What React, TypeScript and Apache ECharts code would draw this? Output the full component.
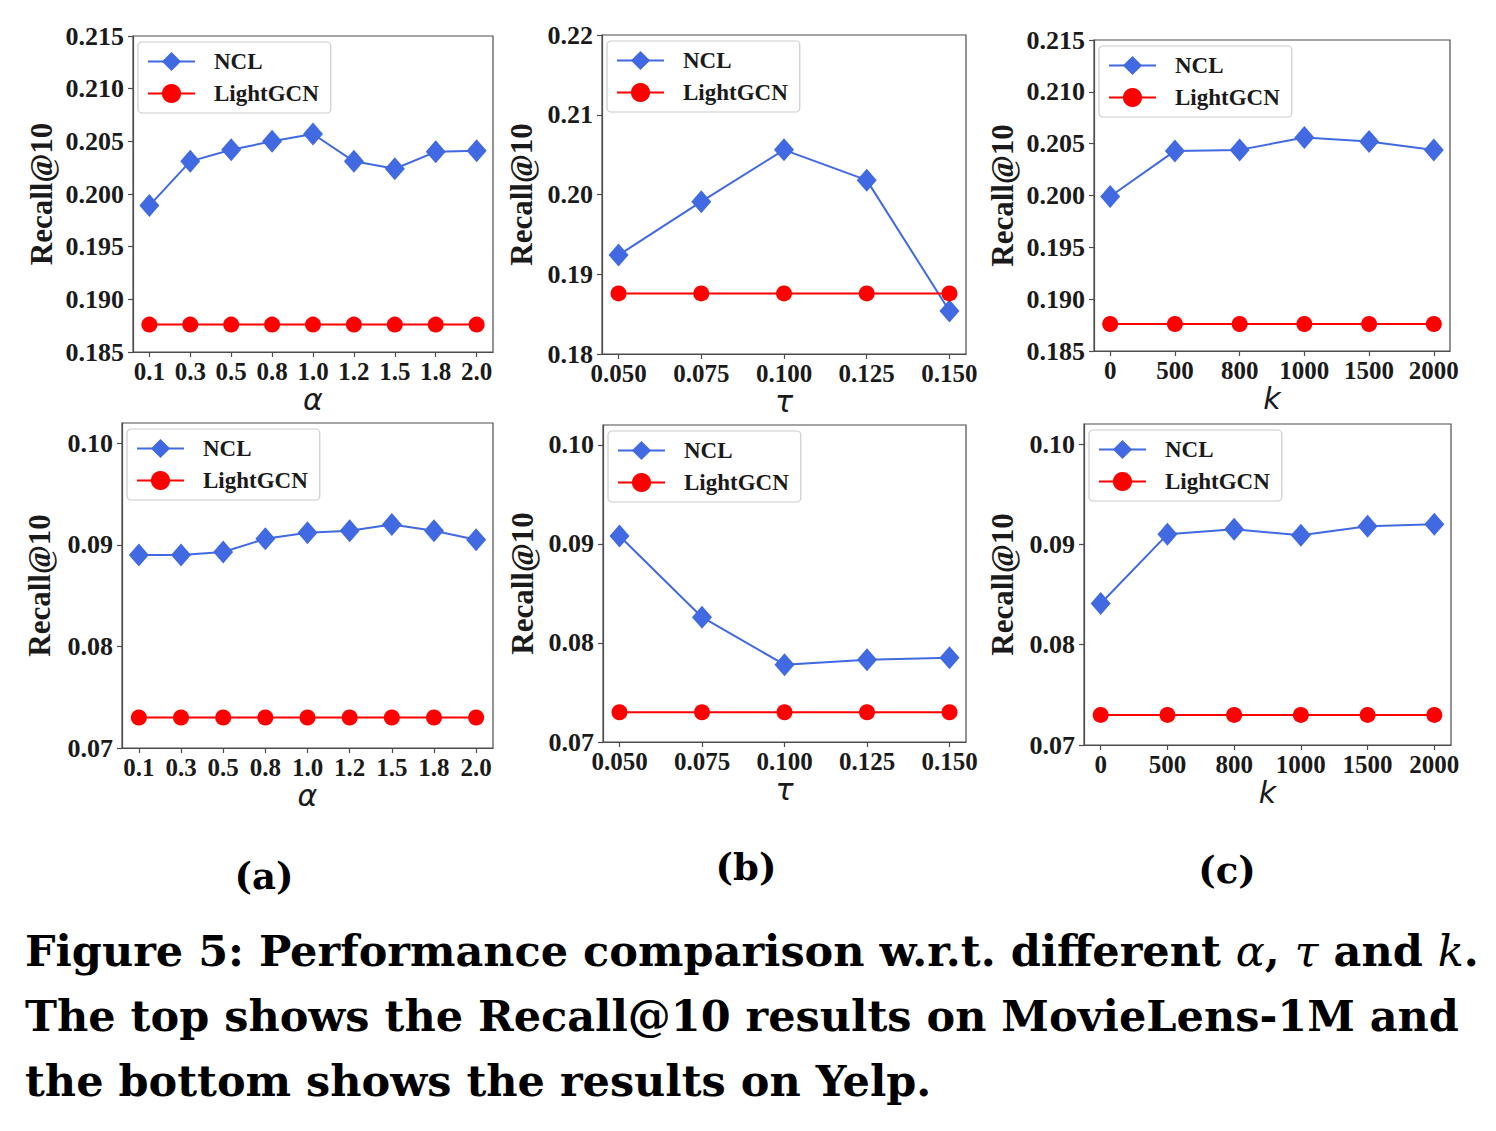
import React, { useEffect, useRef } from "react";
import * as echarts from "echarts";

// ---------- data ----------
const alphaLabels = ["0.1", "0.3", "0.5", "0.8", "1.0", "1.2", "1.5", "1.8", "2.0"];
const tauLabels = ["0.050", "0.075", "0.100", "0.125", "0.150"];
const kLabels = ["0", "500", "800", "1000", "1500", "2000"];

const mlAlphaNCL = [0.1989, 0.2031, 0.2042, 0.205, 0.2057, 0.2031, 0.2024, 0.204, 0.2041];
const mlAlphaLGCN = [0.1876, 0.1876, 0.1876, 0.1876, 0.1876, 0.1876, 0.1876, 0.1876, 0.1876];
const mlTauNCL = [0.1924, 0.1991, 0.2056, 0.2018, 0.1854];
const mlTauLGCN = [0.1876, 0.1876, 0.1876, 0.1876, 0.1876];
const mlKNCL = [0.1999, 0.2043, 0.2044, 0.2056, 0.2052, 0.2044];
const mlKLGCN = [0.1876, 0.1876, 0.1876, 0.1876, 0.1876, 0.1876];

const yelpAlphaNCL = [0.089, 0.089, 0.0893, 0.0906, 0.0912, 0.0914, 0.092, 0.0914, 0.0905];
const yelpAlphaLGCN = [0.073, 0.073, 0.073, 0.073, 0.073, 0.073, 0.073, 0.073, 0.073];
const yelpTauNCL = [0.0908, 0.0826, 0.0778, 0.0783, 0.0785];
const yelpTauLGCN = [0.073, 0.073, 0.073, 0.073, 0.073];
const yelpKNCL = [0.0841, 0.091, 0.0915, 0.0909, 0.0918, 0.092];
const yelpKLGCN = [0.073, 0.073, 0.073, 0.073, 0.073, 0.073];

const mlTicksA = [0.185, 0.19, 0.195, 0.2, 0.205, 0.21, 0.215];
const mlTicksB = [0.18, 0.19, 0.2, 0.21, 0.22];
const yelpTicks = [0.07, 0.08, 0.09, 0.1];

const seriesNames = ["NCL", "LightGCN"];
const xNames = ["α", "τ", "k"];
const subLabels = ["(a)", "(b)", "(c)"];

// ---------- layout / style ----------
const SERIF = "'Liberation Serif', 'Times New Roman', serif";
const CAP = "'DejaVu Serif', serif";
const TXT = "#1a1a1a";
const AX = "#4d4d4d";

type Panel = {
  grid: { left: number; top: number; width: number; height: number };
  cats: string[];
  ncl: number[];
  lgcn: number[];
  yTicks: number[];
  yMin: number;
  yMax: number;
  dec: number;
  xName: string;
  nameGap: number;
};

const panels: Panel[] = [
  { grid: { left: 133, top: 36, width: 360, height: 316 }, cats: alphaLabels, ncl: mlAlphaNCL, lgcn: mlAlphaLGCN, yTicks: mlTicksA, yMin: 0.185, yMax: 0.215, dec: 3, xName: xNames[0], nameGap: 76 },
  { grid: { left: 602, top: 35, width: 364, height: 319 }, cats: tauLabels, ncl: mlTauNCL, lgcn: mlTauLGCN, yTicks: mlTicksB, yMin: 0.18, yMax: 0.22, dec: 2, xName: xNames[1], nameGap: 65 },
  { grid: { left: 1094, top: 40, width: 356, height: 311 }, cats: kLabels, ncl: mlKNCL, lgcn: mlKLGCN, yTicks: mlTicksA, yMin: 0.185, yMax: 0.215, dec: 3, xName: xNames[2], nameGap: 76 },
  { grid: { left: 122, top: 423, width: 371, height: 325 }, cats: alphaLabels, ncl: yelpAlphaNCL, lgcn: yelpAlphaLGCN, yTicks: yelpTicks, yMin: 0.07, yMax: 0.102, dec: 2, xName: xNames[0], nameGap: 67 },
  { grid: { left: 603, top: 425, width: 363, height: 317 }, cats: tauLabels, ncl: yelpTauNCL, lgcn: yelpTauLGCN, yTicks: yelpTicks, yMin: 0.07, yMax: 0.102, dec: 2, xName: xNames[1], nameGap: 65 },
  { grid: { left: 1084, top: 424, width: 367, height: 321 }, cats: kLabels, ncl: yelpKNCL, lgcn: yelpKLGCN, yTicks: yelpTicks, yMin: 0.07, yMax: 0.102, dec: 2, xName: xNames[2], nameGap: 66 },
];

function buildOption() {
  const grid: any[] = [];
  const xAxis: any[] = [];
  const yAxis: any[] = [];
  const series: any[] = [];
  const legend: any[] = [];

  panels.forEach((p, i) => {
    const n = p.cats.length;
    const pad = (n - 1) * 0.05;
    const idx = p.cats.map((_, j) => j);
    grid.push({
      ...p.grid,
      show: true,
      borderColor: AX,
      borderWidth: 1.2,
      backgroundColor: "transparent",
    });
    xAxis.push({
      type: "value",
      gridIndex: i,
      min: -pad,
      max: n - 1 + pad,
      name: p.xName,
      nameLocation: "middle",
      nameGap: 29,
      nameTextStyle: {
        fontFamily: "'DejaVu Sans', sans-serif",
        fontStyle: "italic",
        fontSize: 30,
        color: TXT,
      },
      axisLine: { show: true, onZero: false, lineStyle: { color: AX, width: 1.2 } },
      axisTick: { show: true, inside: false, length: 5, customValues: idx, lineStyle: { color: AX, width: 1.2 } },
      axisLabel: {
        customValues: idx,
        margin: 7,
        fontFamily: SERIF,
        fontWeight: "bold",
        fontSize: 25,
        color: TXT,
        formatter: (v: number) => p.cats[Math.round(v)] ?? "",
      },
      splitLine: { show: false },
    });
    yAxis.push({
      type: "value",
      gridIndex: i,
      min: p.yMin,
      max: p.yMax,
      name: "Recall@10",
      nameLocation: "middle",
      nameGap: p.nameGap,
      nameRotate: 90,
      nameTextStyle: {
        fontFamily: SERIF,
        fontWeight: "bold",
        fontSize: 31,
        color: TXT,
      },
      axisLine: { show: true, onZero: false, lineStyle: { color: AX, width: 1.2 } },
      axisTick: { show: true, inside: false, length: 5, customValues: p.yTicks, lineStyle: { color: AX, width: 1.2 } },
      axisLabel: {
        customValues: p.yTicks,
        margin: 9,
        fontFamily: SERIF,
        fontWeight: "bold",
        fontSize: 26,
        color: TXT,
        formatter: (v: number) => v.toFixed(p.dec),
      },
      splitLine: { show: false },
    });
    series.push({
      name: seriesNames[0],
      type: "line",
      xAxisIndex: i,
      yAxisIndex: i,
      data: p.ncl.map((v, j) => [j, v]),
      symbol: "diamond",
      symbolSize: [20, 23],
      lineStyle: { color: "#4169E1", width: 2 },
      itemStyle: { color: "#4169E1" },
      z: 3,
    });
    series.push({
      name: seriesNames[1],
      type: "line",
      xAxisIndex: i,
      yAxisIndex: i,
      data: p.lgcn.map((v, j) => [j, v]),
      symbol: "circle",
      symbolSize: 16,
      lineStyle: { color: "#FF0000", width: 2 },
      itemStyle: { color: "#FF0000" },
      z: 4,
    });
    legend.push({
      data: seriesNames,
      orient: "vertical",
      left: p.grid.left + 5,
      top: p.grid.top + 6,
      padding: [8, 12, 8, 9],
      itemWidth: 47,
      itemHeight: 24,
      itemGap: 9,
      borderColor: "#cccccc",
      borderWidth: 1.2,
      borderRadius: 4,
      backgroundColor: "rgba(255,255,255,0.8)",
      selectedMode: false,
      textStyle: {
        fontFamily: SERIF,
        fontWeight: "bold",
        fontSize: 23,
        color: TXT,
        padding: [0, 0, 0, 14],
      },
    });
  });

  const subPos = [
    { x: 264, y: 876 },
    { x: 746, y: 867 },
    { x: 1227, y: 870 },
  ];
  const graphic: any[] = subLabels.map((t, i) => ({
    type: "text",
    x: subPos[i].x,
    y: subPos[i].y,
    style: {
      text: t,
      fill: "#000",
      fontFamily: CAP,
      fontWeight: "bold",
      fontSize: 37,
      textAlign: "center",
      textVerticalAlign: "middle",
      align: "center",
      verticalAlign: "middle",
    },
  }));

  const rich = {
    i: {
      fontFamily: CAP,
      fontStyle: "italic",
      fontWeight: "normal",
      fontSize: 43,
      fill: "#000",
      color: "#000",
    },
  };
  const captionLines = [
    "Figure 5: Performance comparison w.r.t. different {i|α}, {i|τ} and {i|k}.",
    "The top shows the Recall@10 results on MovieLens-1M and",
    "the bottom shows the results on Yelp.",
  ];
  const captionBaselines = [967, 1032, 1097];
  captionLines.forEach((t, i) => {
    graphic.push({
      type: "text",
      x: 25,
      y: captionBaselines[i] - 16,
      style: {
        text: t,
        fill: "#000",
        fontFamily: CAP,
        fontWeight: "bold",
        fontSize: 43,
        textAlign: "left",
        textVerticalAlign: "middle",
        align: "left",
        verticalAlign: "middle",
        rich,
      },
    });
  });

  return {
    animation: false,
    backgroundColor: "#ffffff",
    grid,
    xAxis,
    yAxis,
    series,
    legend,
    graphic,
  };
}

export default function App() {
  const ref = useRef<HTMLDivElement>(null);
  useEffect(() => {
    if (!ref.current) return;
    const chart = echarts.init(ref.current, undefined, { renderer: "svg" });
    chart.setOption(buildOption() as any);
    return () => chart.dispose();
  }, []);
  return (
    <div
      ref={ref}
      style={{ position: "absolute", left: 0, top: 0, width: 1496, height: 1131, background: "#fff" }}
    />
  );
}
